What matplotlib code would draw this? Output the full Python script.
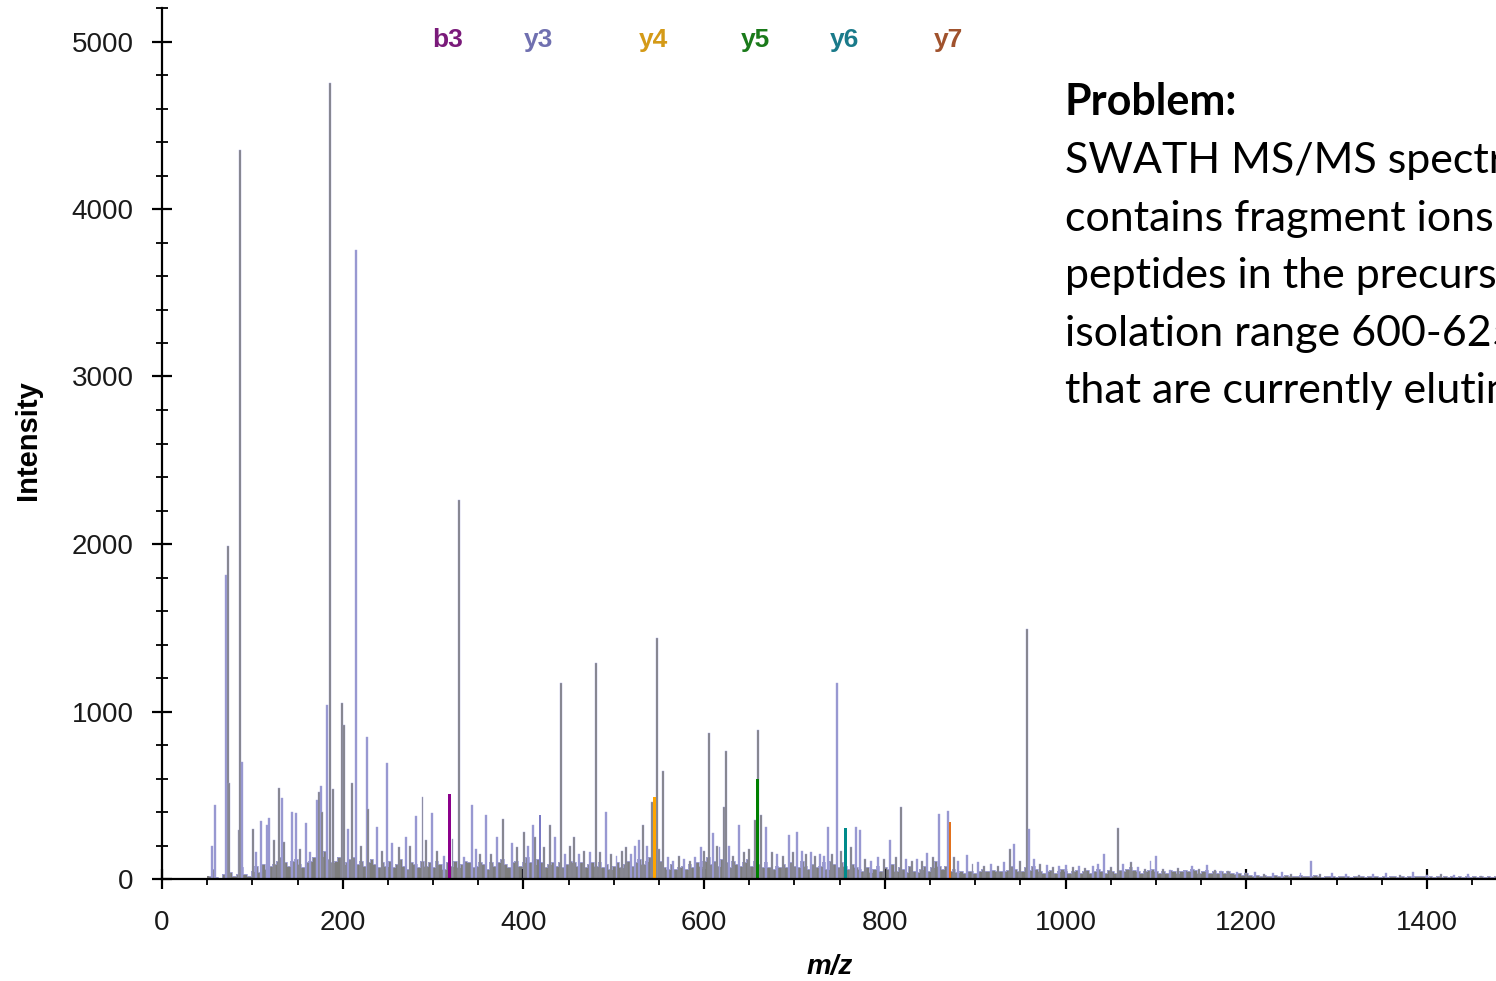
import matplotlib
matplotlib.use("Agg")
import matplotlib.pyplot as plt
from matplotlib.ticker import MultipleLocator

# ---------------------------------------------------------------
# Background (chemical noise) intensities, one value every 4 m/z
# starting at m/z 52
# ---------------------------------------------------------------
noise_start = 52
noise_step = 4
noise_intensity = [
    20, 60, 10, 5, 30, 60, 40, 20, 30, 70, 30, 20, 50, 80, 40, 90, 60, 80, 90, 110,
    130, 100, 80, 110, 120, 90, 70, 100, 110, 130, 160, 140, 170, 120, 100, 110, 130, 90, 100, 120,
    130, 90, 110, 80, 100, 120, 90, 70, 100, 80, 110, 70, 90, 120, 80, 60, 100, 90, 70, 110,
    80, 100, 70, 110, 90, 60, 100, 80, 110, 70, 90, 110, 100, 70, 80, 100, 90, 60, 100, 80,
    100, 120, 90, 70, 100, 110, 80, 100, 130, 100, 90, 120, 100, 70, 90, 100, 80, 100, 70, 90,
    110, 100, 80, 100, 70, 90, 100, 80, 100, 70, 90, 60, 80, 100, 70, 90, 110, 80, 100, 120,
    90, 110, 130, 100, 90, 110, 70, 60, 90, 60, 70, 80, 60, 90, 70, 100, 80, 110, 130, 90,
    110, 80, 120, 100, 70, 110, 90, 80, 100, 120, 80, 110, 90, 70, 100, 70, 60, 80, 70, 90,
    70, 100, 80, 70, 110, 80, 60, 90, 70, 80, 100, 60, 110, 90, 70, 100, 80, 60, 90, 70,
    60, 50, 70, 40, 60, 80, 50, 70, 60, 90, 50, 70, 60, 40, 80, 50, 40, 60, 80, 50,
    70, 110, 80, 60, 80, 50, 60, 40, 50, 35, 45, 50, 35, 45, 60, 50, 45, 55, 45, 50,
    45, 55, 80, 60, 50, 45, 70, 55, 80, 60, 50, 35, 45, 55, 35, 45, 60, 50, 35, 45,
    55, 35, 45, 55, 35, 45, 60, 45, 35, 55, 45, 35, 55, 45, 60, 70, 55, 45, 35, 45,
    55, 60, 45, 35, 45, 35, 55, 45, 35, 45, 55, 45, 60, 55, 35, 45, 55, 35, 45, 35,
    45, 35, 45, 35, 30, 35, 25, 35, 25, 20, 25, 20, 25, 15, 20, 25, 15, 20, 25, 15,
    20, 15, 25, 20, 15, 20, 25, 15, 10, 15, 20, 15, 10, 15, 20, 15, 10, 15, 20, 15,
    10, 15, 20, 15, 10, 15, 10, 15, 20, 10, 15, 10, 15, 10, 15, 20, 15, 10, 15, 10,
    15, 10, 15, 10, 15, 10, 15, 10, 15, 10, 15, 10, 15, 10, 15, 10, 15,
]
noise_mz = [noise_start + noise_step * i for i in range(len(noise_intensity))]

# ---------------------------------------------------------------
# Centroided fragment peaks (m/z, intensity, tone: g=grey, l=lavender)
# ---------------------------------------------------------------
peak_mz = [
    55.5, 58.5, 70.8, 72.5, 74.0, 85.5, 86.7, 88.5, 100.3, 104.0,
    110.0, 116.0, 118.5, 124.0, 129.8, 133.0, 135.0, 144.0, 148.5, 153.0,
    159.4, 164.0, 171.0, 173.7, 176.3, 177.5, 182.2, 186.3, 189.0, 199.6,
    201.4, 206.0, 210.7, 214.8, 220.0, 227.2, 228.5, 237.6, 243.0, 248.6,
    254.0, 262.0, 269.5, 275.0, 280.7, 288.3, 292.0, 298.4, 304.0, 312.0,
    321.5, 328.5, 334.0, 342.7, 348.0, 352.0, 358.6, 364.0, 371.0, 377.0,
    387.0, 393.0, 400.6, 405.0, 411.0, 413.0, 423.0, 429.0, 435.0, 441.3,
    446.0, 451.0, 456.0, 462.0, 467.0, 474.0, 480.0, 485.0, 491.0, 497.0,
    503.0, 509.0, 514.0, 519.0, 524.0, 528.0, 532.7, 537.0, 542.6, 547.5,
    550.0, 555.0, 560.0, 566.0, 572.0, 578.0, 584.0, 590.0, 596.0, 600.0,
    605.0, 609.4, 614.0, 617.0, 622.0, 624.0, 628.0, 632.0, 638.5, 644.0,
    650.0, 656.3, 660.0, 662.5, 669.0, 675.0, 681.0, 687.0, 693.4, 698.0,
    703.3, 708.0, 713.0, 718.0, 723.0, 728.0, 733.0, 737.5, 741.0, 746.6,
    751.0, 762.0, 768.0, 773.0, 778.0, 785.0, 792.0, 799.0, 806.0, 812.0,
    818.0, 823.0, 830.0, 836.0, 841.0, 847.0, 853.0, 860.4, 869.4, 876.0,
    881.0, 890.5, 897.0, 903.0, 910.0, 917.0, 925.0, 932.0, 938.0, 942.7,
    950.0, 957.0, 959.0, 965.0, 972.0, 979.0, 986.0, 993.0, 1001.0, 1008.0,
    1015.0, 1022.0, 1030.0, 1036.0, 1042.0, 1050.0, 1058.0, 1064.0, 1072.0, 1080.0,
    1088.0, 1094.0, 1099.6, 1108.0, 1116.0, 1124.0, 1132.0, 1140.0, 1148.0, 1157.0,
    1165.0, 1172.0, 1180.0, 1190.0, 1200.0, 1210.0, 1220.0, 1230.0, 1240.0, 1250.0,
    1260.0, 1272.0, 1282.0, 1295.0, 1310.0, 1325.0, 1340.0, 1355.0, 1370.0, 1385.0,
    1400.0, 1415.0, 1430.0, 1445.0, 1460.0,
]
peak_intensity = [
    195, 442, 1815, 1988, 573, 292, 4352, 700, 298, 160,
    348, 320, 364, 230, 541, 482, 220, 402, 395, 180,
    334, 160, 472, 521, 555, 400, 1039, 4752, 540, 1049,
    920, 300, 571, 3755, 200, 850, 420, 312, 170, 691,
    215, 190, 249, 200, 376, 491, 230, 396, 170, 140,
    240, 2263, 130, 442, 180, 150, 382, 150, 249, 358,
    215, 190, 282, 200, 322, 250, 190, 322, 253, 1170,
    150, 200, 249, 150, 170, 160, 1290, 160, 398, 150,
    140, 170, 193, 150, 200, 230, 322, 200, 461, 1439,
    180, 646, 130, 110, 140, 120, 110, 130, 190, 170,
    870, 274, 200, 190, 431, 764, 200, 140, 322, 160,
    180, 352, 889, 382, 312, 160, 150, 140, 263, 160,
    282, 170, 150, 160, 140, 150, 140, 312, 150, 1168,
    170, 190, 312, 290, 120, 110, 130, 120, 233, 130,
    427, 120, 110, 120, 110, 153, 130, 388, 408, 130,
    110, 143, 90, 100, 80, 90, 80, 100, 180, 206,
    110, 1493, 300, 120, 90, 85, 70, 80, 85, 70,
    75, 65, 80, 90, 150, 70, 304, 90, 100, 70,
    60, 110, 137, 60, 55, 65, 50, 75, 60, 81,
    55, 50, 45, 40, 35, 40, 30, 35, 40, 30,
    35, 106, 30, 35, 30, 25, 30, 35, 25, 40,
    25, 30, 25, 30, 20,
]
peak_tone = [
    'l', 'l', 'l', 'g', 'g', 'g', 'g', 'l', 'g', 'l',
    'l', 'l', 'l', 'g', 'g', 'l', 'g', 'l', 'l', 'g',
    'l', 'l', 'l', 'g', 'l', 'g', 'l', 'g', 'g', 'g',
    'g', 'l', 'g', 'l', 'g', 'l', 'g', 'l', 'g', 'l',
    'l', 'g', 'l', 'g', 'l', 'g', 'g', 'l', 'g', 'l',
    'g', 'g', 'l', 'l', 'l', 'g', 'l', 'g', 'l', 'g',
    'l', 'g', 'g', 'l', 'l', 'g', 'g', 'g', 'l', 'g',
    'l', 'g', 'g', 'l', 'g', 'l', 'g', 'g', 'l', 'g',
    'l', 'g', 'g', 'l', 'l', 'l', 'g', 'l', 'g', 'g',
    'g', 'g', 'l', 'l', 'g', 'l', 'g', 'l', 'l', 'g',
    'g', 'l', 'g', 'l', 'g', 'g', 'l', 'g', 'l', 'g',
    'g', 'g', 'g', 'g', 'l', 'g', 'l', 'g', 'l', 'g',
    'l', 'l', 'g', 'l', 'g', 'l', 'l', 'l', 'g', 'l',
    'g', 'g', 'l', 'l', 'g', 'l', 'l', 'g', 'l', 'g',
    'g', 'l', 'g', 'l', 'g', 'l', 'g', 'l', 'l', 'g',
    'l', 'l', 'g', 'l', 'g', 'l', 'g', 'l', 'g', 'l',
    'g', 'g', 'l', 'l', 'g', 'l', 'g', 'l', 'l', 'g',
    'l', 'g', 'l', 'l', 'l', 'g', 'g', 'l', 'g', 'l',
    'g', 'l', 'l', 'g', 'l', 'g', 'l', 'l', 'g', 'l',
    'g', 'l', 'g', 'l', 'g', 'l', 'g', 'l', 'l', 'g',
    'l', 'l', 'g', 'l', 'l', 'g', 'l', 'l', 'g', 'l',
    'l', 'g', 'l', 'l', 'g',
]

# ---------------------------------------------------------------
# Annotated transitions of the target peptide
# ---------------------------------------------------------------
ion_labels = ['b3', 'y3', 'y4', 'y5', 'y6', 'y7']
ion_mz = [318.0, 418.3, 545.5, 658.7, 756.8, 872.1]
ion_intensity = [505, 382, 491, 597, 302, 342]
ion_bar_colors = ['#8b008b', '#7a7ac4', '#ffa500', '#008000', '#008b8b', '#e2711d']
ion_text_colors = ['#7a1a7a', '#7070b0', '#d49a17', '#1a7a1a', '#1a7a8a', '#a0522d']

problem_title = "Problem:"
problem_lines = [
    "SWATH MS/MS spectrum",
    "contains fragment ions from all",
    "peptides in the precursor",
    "isolation range 600-625 m/z",
    "that are currently eluting",
]

GREY = '#7d7d7d'
LAVENDER = '#a4a4da'
tone_colors = {'g': '#808080', 'l': '#9595cf'}

W, H = 1496, 981
fig = plt.figure(figsize=(W / 100, H / 100), dpi=100)
fig.patch.set_facecolor('white')

ax = fig.add_axes([162 / W, (H - 879) / H, (W - 162) / W, (879 - 8) / H])
ax.set_facecolor('white')

# noise floor: a solid grey band with a faint lavender rim
ax.bar(noise_mz, noise_intensity, width=noise_step, color=GREY,
       linewidth=0, align='center', zorder=1)
ax.step(noise_mz, noise_intensity, where='mid', color=LAVENDER,
        linewidth=0.6, zorder=1.5)

# individual peaks
ax.bar(peak_mz, peak_intensity, width=2.2,
       color=[tone_colors[t] for t in peak_tone],
       edgecolor=LAVENDER, linewidth=0.3, align='center', zorder=2)

# highlighted transitions
ax.bar(ion_mz, ion_intensity, width=3.2, color=ion_bar_colors,
       linewidth=0, align='center', zorder=3)

for lab, mz, col in zip(ion_labels, ion_mz, ion_text_colors):
    ax.text(mz - 2, 5010, lab, color=col, ha='center', va='center',
            fontsize=19, fontweight='bold',
            family=['Liberation Sans Narrow', 'Liberation Sans'],
            clip_on=False, zorder=5)

ax.set_xlim(0, (W - 162) / 0.90357)
ax.set_ylim(0, 5200)

for side in ('top', 'right'):
    ax.spines[side].set_visible(False)
for side in ('left', 'bottom'):
    ax.spines[side].set_linewidth(1.6)
    ax.spines[side].set_color('black')
    ax.spines[side].set_zorder(6)

ax.xaxis.set_major_locator(MultipleLocator(200))
ax.xaxis.set_minor_locator(MultipleLocator(50))
ax.yaxis.set_major_locator(MultipleLocator(1000))
ax.yaxis.set_minor_locator(MultipleLocator(200))

ax.tick_params(axis='x', which='major', direction='inout', length=15, width=1.6,
               pad=15, labelsize=20, labelcolor='#1a1a1a')
ax.tick_params(axis='x', which='minor', direction='out', length=4, width=1.3)
ax.tick_params(axis='y', which='major', direction='inout', length=15, width=1.6,
               pad=13, labelsize=20, labelcolor='#1a1a1a')
ax.tick_params(axis='y', which='minor', direction='inout', length=9, width=1.3)
for lbl in ax.get_xticklabels() + ax.get_yticklabels():
    lbl.set_family('Liberation Sans')

fig.text(830 / W, 1 - 967 / H, 'm/z', ha='center', va='center',
         fontsize=20, fontweight='bold', style='italic', family='Liberation Sans')
fig.text(28 / W, 1 - 440 / H, 'Intensity', ha='center', va='center',
         rotation=90, fontsize=21, fontweight='bold', family='Liberation Sans')

# explanatory text block
tx = 1065 / W
fig.text(tx, 1 - 115 / H, problem_title, ha='left', va='baseline',
         fontsize=31, fontweight='bold', family='Lato', color='black')
for i, line in enumerate(problem_lines):
    fig.text(tx, 1 - (173 + 57.6 * i) / H, line, ha='left', va='baseline',
             fontsize=31, family='Lato', color='black')

fig.savefig('out.png', dpi=100, facecolor='white')
